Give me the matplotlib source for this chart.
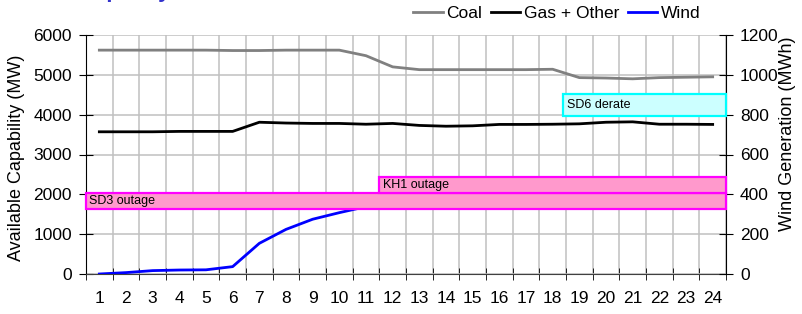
import matplotlib.pyplot as plt
from matplotlib.patches import Rectangle

plt.rcParams['font.family'] = ['Liberation Sans', 'DejaVu Sans']

hours = list(range(1, 25))
coal = [5620, 5620, 5620, 5620, 5620, 5610, 5610, 5620, 5620, 5620, 5480, 5200,
        5130, 5130, 5130, 5130, 5130, 5140, 4930, 4920, 4900, 4930, 4940, 4950]
gas = [3570, 3570, 3570, 3580, 3580, 3580, 3810, 3790, 3780, 3780, 3760, 3780,
       3730, 3710, 3720, 3755, 3755, 3760, 3770, 3810, 3820, 3760, 3760, 3755]
wind = [0, 7, 17, 20, 21, 37, 154, 224, 275, 308, 338, 352,
        365, 376, 385, 392, 398, 402, 405, 410, 415, 420, 425, 430]

# outage / derate boxes: label, hour from, hour to, MW low, MW high, fill, edge
events = ['SD3 outage', 'KH1 outage', 'SD6 derate']
ev_start = [0.5, 11.5, 18.4]
ev_end = [24.5, 24.5, 24.5]
ev_low = [1630, 2035, 3970]
ev_high = [2035, 2430, 4530]
ev_fill = ['#ff99cc', '#ff99cc', '#ccffff']
ev_edge = ['#ff00ff', '#ff00ff', '#00ffff']

fig = plt.figure(figsize=(8.02, 3.14), dpi=100)
ax = fig.add_axes([86/802, 40/314, 640/802, 239/314])
ax2 = ax.twinx()

ax.plot(hours, coal, color='#808080', lw=2, label='Coal')
ax.plot(hours, gas, color='black', lw=2, label='Gas + Other')
ax2.plot(hours, wind, color='#0000ff', lw=2, label='Wind', zorder=2)

for i, name in enumerate(events):
    r = Rectangle((ev_start[i], ev_low[i]), ev_end[i] - ev_start[i], ev_high[i] - ev_low[i],
                  facecolor=ev_fill[i], edgecolor=ev_edge[i], lw=1.6,
                  transform=ax.transData, zorder=3, clip_on=False)
    ax2.add_patch(r)
    ax2.text(ev_start[i] + 0.12, (ev_low[i] + ev_high[i]) / 2, name, fontsize=9,
             va='center', ha='left', transform=ax.transData, zorder=4)

ax.set_xlim(0.5, 24.5)
ax.set_ylim(0, 6000)
ax2.set_ylim(0, 1200)
ax.set_yticks(range(0, 6001, 1000))
ax2.set_yticks(range(0, 1201, 200))
ax.set_xticks(hours)
ax.set_xticks([h + 0.5 for h in range(0, 25)], minor=True)

ax.grid(True, which='major', axis='y', color='#c0c0c0', lw=1.1)
ax.grid(True, which='minor', axis='x', color='#c0c0c0', lw=1.1)
ax.set_axisbelow(True)

ax.tick_params(axis='x', which='major', length=0, pad=12, labelsize=12.5)
ax.tick_params(axis='x', which='minor', direction='inout', length=8)
ax.tick_params(axis='y', direction='inout', length=10, pad=5, labelsize=12.5)
ax2.tick_params(axis='y', direction='inout', length=10, pad=5, labelsize=12.5)

for a in (ax, ax2):
    a.spines['top'].set_visible(False)
ax.spines['right'].set_visible(False)
ax2.spines['left'].set_visible(False)
ax2.spines['bottom'].set_visible(False)
ax.spines['bottom'].set_color('#404040')

fig.text(17/802, 1 - 158/314, 'Available Capability (MW)', rotation=90,
         ha='center', va='center', fontsize=13)
fig.text(787/802, 1 - 134/314, 'Wind Generation (MWh)', rotation=90,
         ha='center', va='center', fontsize=13)

# title sits mostly above the top edge, only descenders show
fig.text(78/802, 1 + 2.5/314, 'Capacity', fontsize=16, fontweight='bold',
         color='#3333cc', va='baseline')

h1, l1 = ax.get_legend_handles_labels()
h2, l2 = ax2.get_legend_handles_labels()
fig.legend(h1 + h2, l1 + l2, loc='center left', bbox_to_anchor=(413/802, 1 - 13/314),
           ncol=3, frameon=False, fontsize=12.5, handlelength=1.7, handletextpad=0.2,
           columnspacing=0.5, borderpad=0, borderaxespad=0)

plt.savefig('out.png', dpi=100)
